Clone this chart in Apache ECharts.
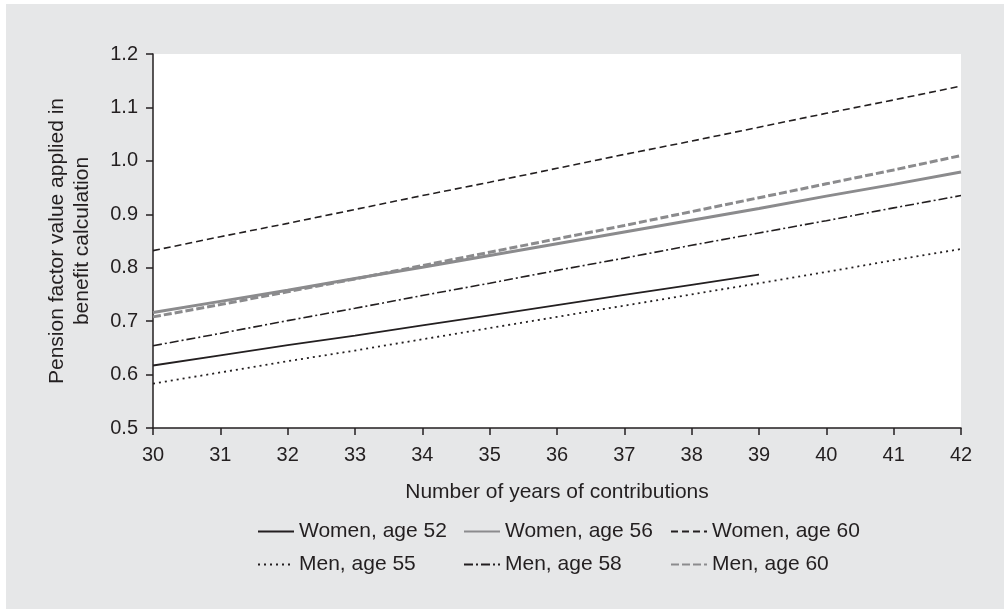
<!DOCTYPE html>
<html>
<head>
<meta charset="utf-8">
<script src="https://cdn.jsdelivr.net/npm/echarts@6/dist/echarts.min.js"></script>
<style>
  html, body { margin: 0; padding: 0; background: #ffffff; }
  #chart { position: absolute; left: 6px; top: 4px; width: 998px; height: 605px; }
</style>
</head>
<body>
<div id="chart"></div>
<script>
const years = [30, 31, 32, 33, 34, 35, 36, 37, 38, 39, 40, 41, 42];
const yTicks = [0.5, 0.6, 0.7, 0.8, 0.9, 1.0, 1.1, 1.2];

const women52 = [0.617, 0.636, 0.655, 0.673, 0.692, 0.711, 0.730, 0.749, 0.768, 0.787];
const women56 = [0.716, 0.737, 0.758, 0.780, 0.801, 0.823, 0.845, 0.867, 0.889, 0.911, 0.934, 0.956, 0.979];
const women60 = [0.832, 0.858, 0.883, 0.909, 0.935, 0.960, 0.986, 1.012, 1.037, 1.063, 1.089, 1.114, 1.140];
const men55 = [0.583, 0.604, 0.625, 0.645, 0.666, 0.687, 0.708, 0.729, 0.750, 0.771, 0.792, 0.814, 0.835];
const men58 = [0.654, 0.677, 0.701, 0.724, 0.748, 0.771, 0.795, 0.818, 0.842, 0.865, 0.888, 0.912, 0.935];
const men60 = [0.708, 0.731, 0.755, 0.779, 0.804, 0.829, 0.854, 0.879, 0.905, 0.931, 0.957, 0.983, 1.010];

const BLACK = '#231f20';
const GRAY = '#8b8b8d';
const FONT = '"Liberation Sans", Arial, sans-serif';

function pairs(vals) { return vals.map((v, i) => [years[i], v]); }

function line(name, vals, color, width, type) {
  return {
    name: name, type: 'line', data: pairs(vals), symbol: 'none', silent: true,
    lineStyle: { color: color, width: width, type: type },
    itemStyle: { color: color },
    z: color === GRAY ? 2 : 3
  };
}

const chart = echarts.init(document.getElementById('chart'), null, { renderer: 'canvas' });

const legendBase = {
  orient: 'vertical', top: 517, padding: 0, itemGap: 12,
  itemWidth: 36, itemHeight: 14,
  itemStyle: { opacity: 0, borderWidth: 0 },
  textStyle: { fontFamily: FONT, fontSize: 21, color: BLACK, lineHeight: 21, padding: [0, 0, 0, 0] },
  selectedMode: false
};

chart.setOption({
  backgroundColor: '#e6e7e8',
  animation: false,
  grid: { left: 147, top: 50, width: 808, height: 374, show: true, backgroundColor: '#ffffff', borderWidth: 0 },
  xAxis: {
    type: 'value', min: 30, max: 42, interval: 1,
    name: 'Number of years of contributions', nameLocation: 'middle', nameGap: 54,
    nameTextStyle: { fontFamily: FONT, fontSize: 21, color: BLACK },
    axisLine: { show: true, lineStyle: { color: BLACK, width: 1.5 } },
    axisTick: { show: true, length: 7, lineStyle: { color: BLACK, width: 1.5 } },
    axisLabel: { fontFamily: FONT, fontSize: 20, color: BLACK, margin: 17 },
    splitLine: { show: false }
  },
  yAxis: {
    type: 'value', min: 0.5, max: 1.2, interval: 0.1,
    name: 'Pension factor value applied in\nbenefit calculation', nameLocation: 'middle', nameGap: 58, nameRotate: 90,
    nameTextStyle: { fontFamily: FONT, fontSize: 21, color: BLACK, lineHeight: 25, align: 'center' },
    axisLine: { show: true, lineStyle: { color: BLACK, width: 1.5 } },
    axisTick: { show: true, length: 7, lineStyle: { color: BLACK, width: 1.5 } },
    axisLabel: { fontFamily: FONT, fontSize: 20, color: BLACK, margin: 15,
      formatter: v => (Math.round(v * 10) / 10).toFixed(1) },
    splitLine: { show: false }
  },
  legend: [
    Object.assign({}, legendBase, { left: 251, data: ['Women, age 52', 'Men, age 55'] }),
    Object.assign({}, legendBase, { left: 457, data: ['Women, age 56', 'Men, age 58'] }),
    Object.assign({}, legendBase, { left: 664, data: ['Women, age 60', 'Men, age 60'] })
  ],
  series: [
    line('Women, age 52', women52, BLACK, 1.8, 'solid'),
    line('Women, age 56', women56, GRAY, 3, 'solid'),
    line('Women, age 60', women60, BLACK, 1.6, [7, 4]),
    line('Men, age 55', men55, BLACK, 1.8, [2, 4]),
    line('Men, age 58', men58, BLACK, 1.6, [9, 3, 2, 3]),
    line('Men, age 60', men60, GRAY, 3, [8, 3])
  ]
});
</script>
</body>
</html>
